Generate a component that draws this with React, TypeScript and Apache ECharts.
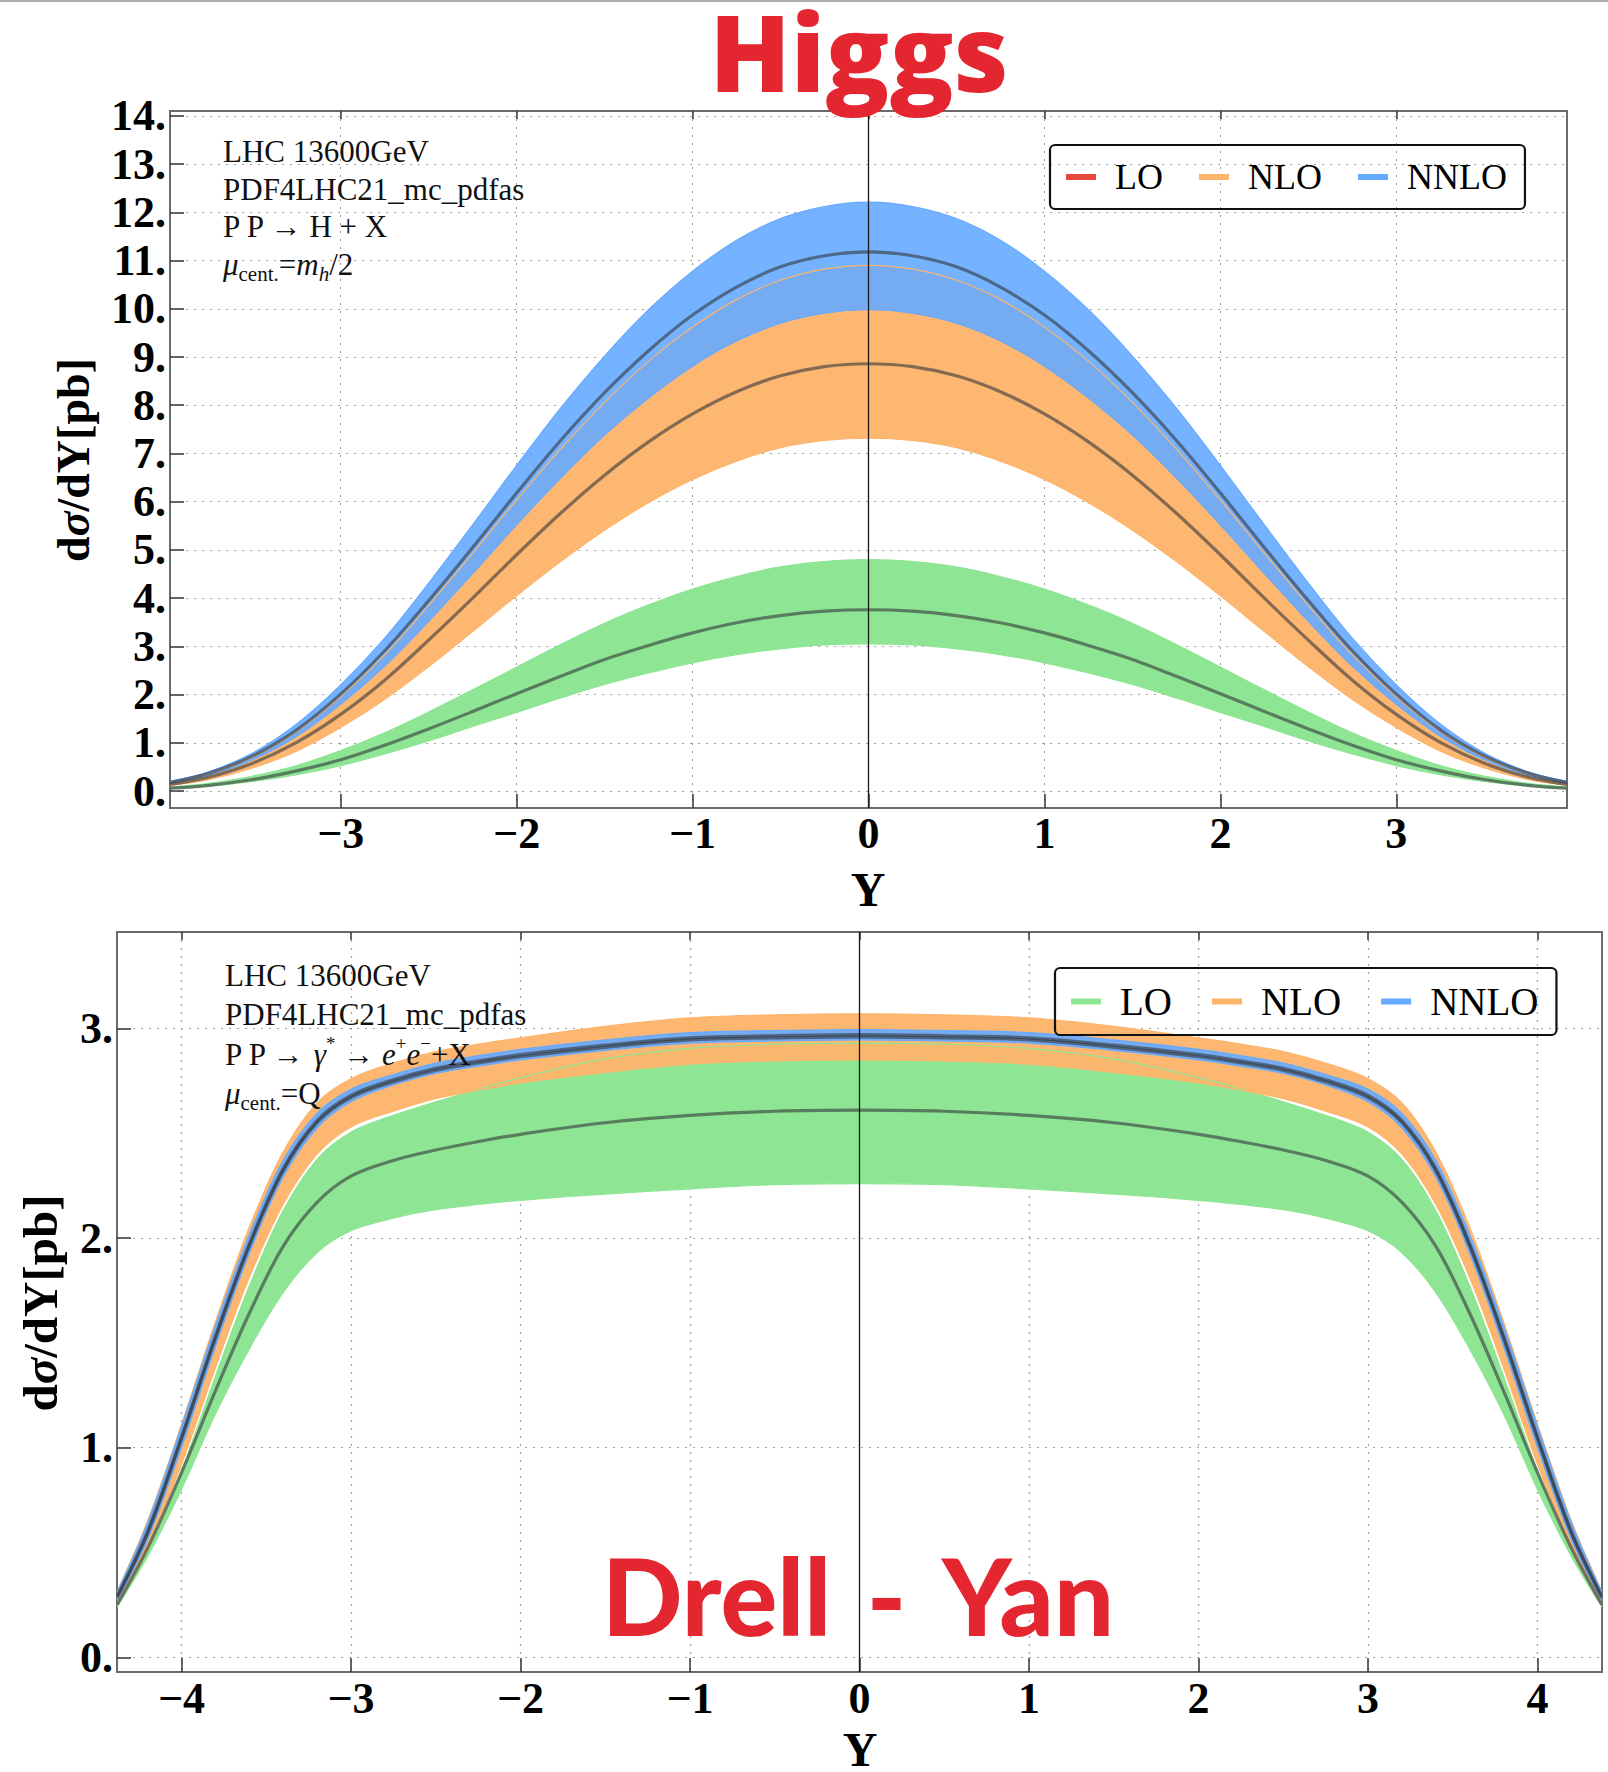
import React, { useEffect, useRef } from 'react';
import * as echarts from 'echarts';

// ---------------- Higgs (rapidity grid, symmetric in Y) ----------------
const higgsRap = [0, 0.25, 0.5, 0.75, 1, 1.25, 1.5, 1.75, 2, 2.25, 2.5, 2.75, 3, 3.25, 3.5, 3.75, 3.97];
const higgsLOLow = [3.05, 3.03, 2.95, 2.83, 2.66, 2.45, 2.21, 1.93, 1.63, 1.34, 1.04, 0.77, 0.53, 0.34, 0.2, 0.1, 0.05];
const higgsLOCen = [3.76, 3.73, 3.64, 3.49, 3.28, 3.02, 2.73, 2.38, 2.02, 1.65, 1.29, 0.95, 0.65, 0.42, 0.24, 0.12, 0.06];
const higgsLOHigh = [4.8, 4.76, 4.65, 4.45, 4.19, 3.86, 3.48, 3.04, 2.57, 2.1, 1.64, 1.21, 0.84, 0.53, 0.31, 0.16, 0.08];
const higgsNLOLow = [7.32, 7.27, 7.12, 6.84, 6.46, 5.98, 5.41, 4.76, 4.05, 3.31, 2.58, 1.9, 1.32, 0.83, 0.48, 0.24, 0.12];
const higgsNLOCen = [8.86, 8.8, 8.61, 8.28, 7.82, 7.24, 6.55, 5.76, 4.9, 4.0, 3.13, 2.3, 1.59, 1.01, 0.58, 0.29, 0.14];
const higgsNLOHigh = [10.9, 10.82, 10.59, 10.19, 9.62, 8.91, 8.06, 7.09, 6.03, 4.93, 3.85, 2.83, 1.96, 1.24, 0.71, 0.36, 0.17];
const higgsNNLOLow = [9.98, 9.91, 9.7, 9.33, 8.81, 8.15, 7.38, 6.49, 5.52, 4.51, 3.52, 2.59, 1.8, 1.14, 0.65, 0.33, 0.16];
const higgsNNLOCen = [11.18, 11.1, 10.87, 10.45, 9.87, 9.13, 8.26, 7.27, 6.18, 5.05, 3.95, 2.91, 2.01, 1.27, 0.73, 0.37, 0.18];
const higgsNNLOHigh = [12.21, 12.12, 11.87, 11.42, 10.78, 9.98, 9.02, 7.94, 6.75, 5.52, 4.31, 3.17, 2.2, 1.39, 0.79, 0.4, 0.2];

// ---------------- Drell-Yan ----------------
const dyRap = [0, 0.5, 1, 1.5, 2, 2.25, 2.5, 2.75, 3, 3.2, 3.4, 3.6, 3.8, 4.0, 4.2, 4.38];
const dyLOLow = [2.26, 2.255, 2.235, 2.21, 2.18, 2.16, 2.135, 2.095, 2.035, 1.93, 1.74, 1.47, 1.16, 0.8, 0.48, 0.24];
const dyLOCen = [2.61, 2.605, 2.585, 2.55, 2.495, 2.46, 2.42, 2.37, 2.295, 2.17, 1.96, 1.64, 1.27, 0.88, 0.52, 0.25];
const dyLOHigh = [2.93, 2.925, 2.905, 2.855, 2.765, 2.71, 2.65, 2.585, 2.505, 2.375, 2.13, 1.77, 1.34, 0.89, 0.51, 0.25];
const dyNLOLow = [2.85, 2.845, 2.83, 2.79, 2.74, 2.705, 2.665, 2.605, 2.53, 2.4, 2.16, 1.81, 1.38, 0.92, 0.52, 0.26];
const dyNLOCen = [2.96, 2.955, 2.945, 2.91, 2.865, 2.835, 2.8, 2.745, 2.67, 2.55, 2.32, 1.96, 1.52, 1.04, 0.59, 0.285];
const dyNLOHigh = [3.07, 3.065, 3.05, 3.01, 2.955, 2.925, 2.89, 2.835, 2.76, 2.645, 2.41, 2.05, 1.6, 1.11, 0.65, 0.31];
const dyNNLOLow = [2.945, 2.94, 2.93, 2.895, 2.85, 2.82, 2.785, 2.73, 2.65, 2.525, 2.29, 1.925, 1.48, 1.0, 0.56, 0.27];
const dyNNLOCen = [2.97, 2.965, 2.955, 2.92, 2.875, 2.845, 2.81, 2.755, 2.68, 2.56, 2.33, 1.97, 1.53, 1.05, 0.6, 0.29];
const dyNNLOHigh = [2.995, 2.99, 2.98, 2.945, 2.9, 2.87, 2.835, 2.78, 2.71, 2.595, 2.37, 2.015, 1.58, 1.1, 0.64, 0.31];

// ---------------- ticks ----------------
const higgsYTicks = [0, 1, 2, 3, 4, 5, 6, 7, 8, 9, 10, 11, 12, 13, 14];
const higgsXTicks = [-3, -2, -1, 0, 1, 2, 3];
const dyYTicks = [0, 1, 2, 3];
const dyXTicks = [-4, -3, -2, -1, 0, 1, 2, 3, 4];

const orderNames = ['LO', 'NLO', 'NNLO'];
const higgsLegendColors = ['#e8483b', '#fdb46b', '#66aaff'];
const dyLegendColors = ['#8ee593', '#fdb46b', '#66aaff'];

const GREEN = '#8ee593';
const ORANGE = '#fdb46b';
const BLUE = '#66aaff';
const CENTRAL = 'rgba(50,55,58,0.6)';
const SERIF = 'Liberation Serif';
const SMOOTH = 0.35;

function mirror(xs: number[], ys: number[]): number[][] {
  const pts: number[][] = [];
  for (let i = xs.length - 1; i >= 1; i--) pts.push([-xs[i], ys[i]]);
  for (let i = 0; i < xs.length; i++) pts.push([xs[i], ys[i]]);
  return pts;
}

// scale band: filled polygon between lower and upper curves, drawn through the axes (api.coord)
function bandSeries(gi: number, xs: number[], low: number[], high: number[], color: string, opacity: number, name: string) {
  const lo = mirror(xs, low);
  const hi = mirror(xs, high);
  return {
    type: 'custom', name, xAxisIndex: gi, yAxisIndex: gi, silent: true, clip: true,
    itemStyle: { color },
    data: lo.map((p, i) => [p[0], p[1], hi[i][1]]),
    renderItem: (params: any, api: any) => {
      if (params.dataIndex !== 0) return null;
      const pts: number[][] = [];
      for (let i = 0; i < hi.length; i++) pts.push(api.coord([hi[i][0], hi[i][1]]));
      for (let i = lo.length - 1; i >= 0; i--) pts.push(api.coord([lo[i][0], lo[i][1]]));
      return { type: 'polygon', shape: { points: pts, smooth: SMOOTH }, style: { fill: color, opacity } };
    },
  };
}

// thin edge curves of the bands
function edgeSeries(gi: number, xs: number[], curves: { ys: number[]; color: string }[]) {
  const all = curves.map((c) => ({ pts: mirror(xs, c.ys), color: c.color }));
  return {
    type: 'custom', name: 'edges' + gi, xAxisIndex: gi, yAxisIndex: gi, silent: true, clip: true,
    data: all[0].pts.map((p) => [p[0], p[1]]),
    renderItem: (params: any, api: any) => {
      if (params.dataIndex !== 0) return null;
      return {
        type: 'group',
        children: all.map((c) => ({
          type: 'polyline',
          shape: { points: c.pts.map((p) => api.coord(p)), smooth: SMOOTH },
          style: { stroke: c.color, lineWidth: 1.2, fill: 'none' },
        })),
      };
    },
  };
}

// central-scale curves
function centralSeries(gi: number, xs: number[], curves: number[][]) {
  const all = curves.map((ys) => mirror(xs, ys));
  return {
    type: 'custom', name: 'central' + gi, xAxisIndex: gi, yAxisIndex: gi, silent: true, clip: true,
    data: all[0].map((p) => [p[0], p[1]]),
    renderItem: (params: any, api: any) => {
      if (params.dataIndex !== 0) return null;
      return {
        type: 'group',
        children: all.map((pts) => ({
          type: 'polyline',
          shape: { points: pts.map((p) => api.coord(p)), smooth: SMOOTH },
          style: { stroke: CENTRAL, lineWidth: 3.2, fill: 'none' },
        })),
      };
    },
  };
}

const zeroLine = {
  markLine: {
    silent: true, symbol: ['none', 'none'], label: { show: false },
    lineStyle: { color: '#1a1a1a', width: 1.3, type: 'solid' },
    data: [{ xAxis: 0 }],
  },
};

function buildSeries(gi: number, xs: number[], d: any) {
  return [
    bandSeries(gi, xs, d.loL, d.loH, GREEN, 1, 'LO'),
    bandSeries(gi, xs, d.nloL, d.nloH, ORANGE, 0.96, 'NLO'),
    bandSeries(gi, xs, d.nnloL, d.nnloH, BLUE, 0.9, 'NNLO'),
    edgeSeries(gi, xs, [
      { ys: d.loH, color: GREEN }, { ys: d.loL, color: GREEN },
      { ys: d.nloH, color: ORANGE }, { ys: d.nloL, color: ORANGE },
      { ys: d.nnloH, color: BLUE }, { ys: d.nnloL, color: BLUE },
    ]),
    centralSeries(gi, xs, [d.loC, d.nloC, d.nnloC]),
    {
      type: 'line', name: 'axis' + gi, xAxisIndex: gi, yAxisIndex: gi, symbol: 'none', silent: true,
      data: [], lineStyle: { opacity: 0 }, ...zeroLine,
    },
  ];
}

const tickLabel = { fontFamily: SERIF, fontWeight: 'bold', fontSize: 44, color: '#000' };
const splitLineStyle = { show: true, lineStyle: { color: '#a0a0a0', width: 1.2, type: [2, 6] } };
const tickLine = { color: '#333', width: 1.5 };

function xAxisCfg(gi: number, lim: number, ticks: number[], margin: number) {
  return {
    gridIndex: gi, type: 'value', min: -lim, max: lim, position: 'bottom',
    axisLine: { show: false, onZero: false },
    axisTick: { show: true, inside: true, length: 14, customValues: ticks, lineStyle: tickLine },
    axisLabel: {
      ...tickLabel, customValues: ticks, margin, hideOverlap: false,
      formatter: (v: number) => (v < 0 ? '\u2212' + Math.abs(v) : String(v)),
    },
    splitLine: splitLineStyle,
  };
}

// frame ticks along the top edge (no labels)
function xTopCfg(gi: number, lim: number, ticks: number[]) {
  return {
    gridIndex: gi, type: 'value', min: -lim, max: lim, position: 'top',
    axisLine: { show: false, onZero: false },
    axisTick: { show: true, inside: true, length: 8, customValues: ticks, lineStyle: tickLine },
    axisLabel: { show: false },
    splitLine: { show: false },
  };
}

function yAxisCfg(gi: number, min: number, max: number, ticks: number[]) {
  return {
    gridIndex: gi, type: 'value', min, max,
    axisLine: { show: false, onZero: false },
    axisTick: { show: true, inside: true, length: 14, customValues: ticks, lineStyle: tickLine },
    axisLabel: { ...tickLabel, customValues: ticks, margin: 4, hideOverlap: false, formatter: (v: number) => v + '.' },
    splitLine: splitLineStyle,
  };
}

function legendCfg(left: number, top: number, colors: string[], fontSize: number, gap: number) {
  return {
    left, top, orient: 'horizontal', selectedMode: false, icon: 'rect',
    itemWidth: 30, itemHeight: 6, itemGap: gap,
    padding: [14, 18, 14, 16],
    borderColor: '#111', borderWidth: 2.2, borderRadius: 5, backgroundColor: 'transparent',
    textStyle: { fontFamily: SERIF, fontSize, color: '#000', padding: [0, 0, 0, 14] },
    data: orderNames.map((n, i) => ({ name: n, icon: 'rect', itemStyle: { color: colors[i] } })),
  };
}

const annRich = (fs: number) => ({
  n: { fontFamily: SERIF, fontSize: fs, lineHeight: 40, color: '#111' },
  i: { fontFamily: SERIF, fontSize: fs, lineHeight: 40, fontStyle: 'italic', color: '#111' },
  sub: { fontFamily: SERIF, fontSize: 21, lineHeight: 20, verticalAlign: 'bottom', color: '#111' },
  subi: { fontFamily: SERIF, fontSize: 21, lineHeight: 20, verticalAlign: 'bottom', fontStyle: 'italic', color: '#111' },
  sup: { fontFamily: SERIF, fontSize: 19, lineHeight: 22, verticalAlign: 'top', color: '#111' },
});

function annLine(x: number, baseline: number, text: string) {
  return {
    type: 'text', x, y: baseline - 30.5, silent: true, z: 50,
    style: { text, rich: annRich(31), align: 'left', verticalAlign: 'top', fontFamily: SERIF, fontSize: 31, fill: '#111' },
  };
}

const higgsNotes = [
  '{n|LHC 13600GeV}',
  '{n|PDF4LHC21_mc_pdfas}',
  '{n|P P \u2192 H + X}',
  '{i|\u03bc}{sub|cent.}{n|=}{i|m}{subi|h}{n|/2}',
];
const dyNotes = [
  '{n|LHC 13600GeV}',
  '{n|PDF4LHC21_mc_pdfas}',
  '{n|P P \u2192 }{i|\u03b3}{sup|*}{n| \u2192 }{i|e}{sup|+}{i|e}{sup|\u2212}{n|+X}',
  '{i|\u03bc}{sub|cent.}{n|=Q}',
];

function yName(x: number, y: number, fs: number) {
  return {
    type: 'text', x, y, rotation: Math.PI / 2, silent: true,
    style: {
      text: '{b|d}{bi|\u03c3}{b|/dY[pb]}', align: 'center', verticalAlign: 'middle',
      rich: {
        b: { fontFamily: SERIF, fontWeight: 'bold', fontSize: fs, color: '#000' },
        bi: { fontFamily: SERIF, fontWeight: 'bold', fontStyle: 'italic', fontSize: fs, color: '#000' },
      },
      fontFamily: SERIF, fontWeight: 'bold', fontSize: fs, fill: '#000',
    },
  };
}

function xName(x: number, y: number) {
  return {
    type: 'text', x, y, silent: true,
    style: { text: 'Y', align: 'center', verticalAlign: 'middle', lineHeight: 36, fontFamily: SERIF, fontWeight: 'bold', fontSize: 48, fill: '#000' },
  };
}

function title(x: number, y: number, text: string, family: string, weight: number, fs: number, spaceFs: number) {
  return {
    type: 'text', x, y, silent: true, z: 100,
    style: {
      text, align: 'center', verticalAlign: 'middle', fill: '#e3262f',
      fontFamily: family, fontWeight: weight, fontSize: fs, lineHeight: 88,
      rich: {
        t: { fontFamily: family, fontWeight: weight, fontSize: fs, lineHeight: 88, color: '#e3262f' },
        s: { fontFamily: family, fontWeight: weight, fontSize: spaceFs, lineHeight: 88, color: '#e3262f' },
      },
    },
  };
}

export default function App() {
  const ref = useRef<HTMLDivElement>(null);
  useEffect(() => {
    if (!ref.current) return;
    const chart = echarts.init(ref.current, null, { renderer: 'svg' });
    const higgs = {
      loL: higgsLOLow, loC: higgsLOCen, loH: higgsLOHigh,
      nloL: higgsNLOLow, nloC: higgsNLOCen, nloH: higgsNLOHigh,
      nnloL: higgsNNLOLow, nnloC: higgsNNLOCen, nnloH: higgsNNLOHigh,
    };
    const dy = {
      loL: dyLOLow, loC: dyLOCen, loH: dyLOHigh,
      nloL: dyNLOLow, nloC: dyNLOCen, nloH: dyNLOHigh,
      nnloL: dyNNLOLow, nnloC: dyNNLOCen, nnloH: dyNNLOHigh,
    };
    const option: any = {
      animation: false,
      backgroundColor: '#fff',
      grid: [
        { left: 170, top: 111, width: 1397, height: 697, show: true, borderColor: '#6a6a6a', borderWidth: 2, backgroundColor: 'transparent', outerBoundsMode: 'none' },
        { left: 117, top: 932, width: 1485, height: 740, show: true, borderColor: '#6a6a6a', borderWidth: 2, backgroundColor: 'transparent', outerBoundsMode: 'none' },
      ],
      xAxis: [
        xAxisCfg(0, 3.97, higgsXTicks, 3),
        xAxisCfg(1, 4.38, dyXTicks, 4),
        xTopCfg(0, 3.97, higgsXTicks),
        xTopCfg(1, 4.38, dyXTicks),
      ],
      yAxis: [yAxisCfg(0, -0.35, 14.1, higgsYTicks), yAxisCfg(1, -0.07, 3.46, dyYTicks)],
      legend: [legendCfg(1050, 145, higgsLegendColors, 36, 36), legendCfg(1055, 968, dyLegendColors, 39, 40)],
      series: [...buildSeries(0, higgsRap, higgs), ...buildSeries(1, dyRap, dy)],
      graphic: [
        { type: 'rect', shape: { x: 0, y: 0, width: 1608, height: 2 }, style: { fill: '#a9b0b0' }, silent: true },
        title(859, 51, '{t|Higgs}', 'Open Sans', 800, 106, 60),
        title(858, 1595, '{t|Drell}{s| }{t|-}{s| }{t|Yan}', 'Lato', 900, 106, 150),
        ...higgsNotes.map((t, i) => annLine(223, 162 + i * 37.5, t)),
        ...dyNotes.map((t, i) => annLine(225, 985.5 + i * 39.5, t)),
        yName(73, 460, 46),
        yName(40, 1303, 49),
        xName(868, 889),
        xName(860, 1749),
      ],
    };
    chart.setOption(option);
    return () => chart.dispose();
  }, []);
  return <div ref={ref} style={{ position: 'absolute', left: 0, top: 0, width: 1608, height: 1772 }} />;
}
